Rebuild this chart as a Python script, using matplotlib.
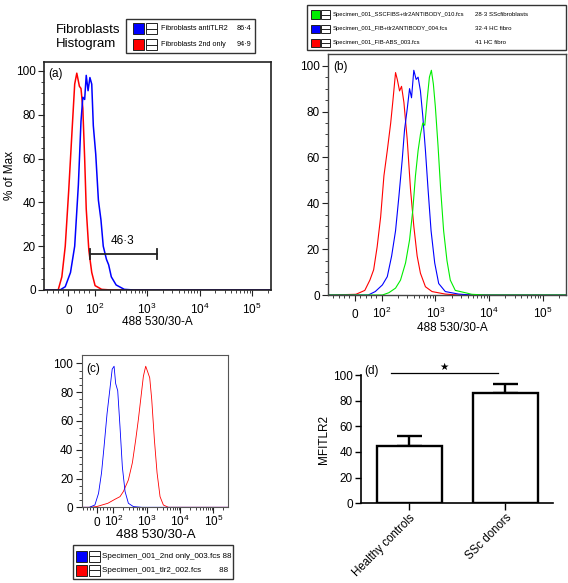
import matplotlib
matplotlib.use('Agg')
import matplotlib.pyplot as plt
from matplotlib.patches import Rectangle
from matplotlib.lines import Line2D
from matplotlib.ticker import FixedLocator, NullFormatter

plt.rcParams['font.family'] = ['Liberation Sans', 'DejaVu Sans']
plt.rcParams['mathtext.fontset'] = 'custom'
plt.rcParams['mathtext.rm'] = 'Liberation Sans'
plt.rcParams['mathtext.it'] = 'Liberation Sans:italic'
plt.rcParams['mathtext.bf'] = 'Liberation Sans:bold'

# ---------------- data ----------------
flow_ticks = [0, 100, 1000, 10000, 100000]
flow_tick_labels = ['0', r'$\mathregular{10^{2}}$', r'$\mathregular{10^{3}}$',
                    r'$\mathregular{10^{4}}$', r'$\mathregular{10^{5}}$']
pct_ticks = [0, 20, 40, 60, 80, 100]
x_label = '488 530/30-A'
y_label_a = '% of Max'

# Panel (a): fibroblast histograms
a_red_x = [-96, -39, -25, -12, 1, 15, 24, 32, 42, 48, 55, 62, 68, 78, 89, 102, 136, 208, 230000]
a_red_y = [0, 0, 6, 20, 45, 75, 94, 99, 93, 92, 83, 60, 37, 18, 8, 2, 0.3, 0, 0]
a_blue_x = [-96, -32, -12, 8, 24, 38, 48, 55, 62, 68, 75, 82, 89, 95, 105, 118, 132, 146,
            168, 185, 208, 257, 367, 562, 230000]
a_blue_y = [0, 0, 1.5, 8, 20, 48, 77, 88, 87, 98, 91, 97, 94, 75, 62, 41, 32, 20,
            14, 11.5, 6, 2.3, 0.3, 0, 0]
a_gate_x = [82, 1514]
a_gate_y = 16.5
a_gate_label = '46·3'

# Panel (b)
b_red_x = [-100, 3.9, 37, 56, 70, 83, 96, 110, 127, 147, 162, 181, 195, 215, 234, 259, 298,
           344, 396, 457, 526, 652, 865, 1528, 2698, 270000]
b_red_y = [0, 0.3, 2, 6.5, 11, 21, 34, 52, 63, 75, 85, 97, 94, 89, 91, 84, 68,
           46, 30, 17, 9.5, 3.6, 1.5, 0.4, 0, 0]
b_blue_x = [-100, 50, 76, 103, 127, 153, 181, 209, 241, 266, 298, 330, 359, 396, 438, 476,
            526, 582, 652, 730, 830, 970, 1151, 1528, 2698, 4764, 270000]
b_blue_y = [0, 0, 1.5, 4.4, 8, 17, 28, 43, 59, 72, 81, 90, 86, 98, 94, 95,
            89, 78, 63, 46, 28, 14, 5, 1.5, 0.4, 0, 0]
b_green_x = [-100, 103, 136, 181, 224, 278, 330, 379, 425, 476, 526, 582, 634, 700, 773, 841,
             916, 998, 1119, 1253, 1422, 1641, 1892, 2344, 3589, 4764, 8414, 270000]
b_green_y = [0, 0, 1, 3, 6.5, 14, 24, 37, 52, 63, 70, 75, 74, 85, 95, 98,
             92, 82, 65, 46, 28, 15, 6.5, 2, 1, 0.3, 0, 0]

# Panel (c)
c_blue_x = [-90, -44, -11, 11, 29, 44, 62, 78, 93, 105, 117, 135, 158, 186, 224, 282, 398, 708, 280000]
c_blue_y = [0, 0, 1.6, 9.7, 24, 42, 65, 81, 96, 98, 86, 81, 56, 28, 11, 2.8, 0.5, 0, 0]
c_red_x = [-90, -44, 0, 67, 112, 158, 200, 282, 372, 468, 562, 676, 794, 933, 1072, 1230,
           1413, 1698, 2042, 2512, 3162, 4467, 280000]
c_red_y = [0, 0, 0.5, 2.8, 5.6, 7.4, 11, 19, 31, 47, 61, 77, 91, 98, 94, 90,
           75, 47, 24, 7.4, 1.6, 0, 0]

# Panel (d)
groups = ['Healthy controls', 'SSc donors']
means = [44.7, 85.7]
sems = [8.0, 7.0]
d_ylabel = 'MFITLR2'
sig_span = [-0.19, 0.92]
sig_y = 101.3
sig_mark = '★'

# Legends
legend_a_title = ['Fibroblasts', 'Histogram']
legend_a_names = ['Fibroblasts antiTLR2', 'Fibroblasts 2nd only']
legend_a_vals = ['86·4', '94·9']
legend_a_colors = ['#0000ff', '#ff0000']
legend_b_names = ['Specimen_001_SSCFIBS+tlr2ANTIBODY_010.fcs',
                  'Specimen_001_FIB+tlr2ANTIBODY_004.fcs',
                  'Specimen_001_FIB-ABS_003.fcs']
legend_b_vals = ['28·3 SScfibroblasts', '32·4 HC fibro', '41 HC fibro']
legend_b_colors = ['#00ee00', '#0000ff', '#ff0000']
legend_c_names = ['Specimen_001_2nd only_003.fcs 88', 'Specimen_001_tlr2_002.fcs        88']
legend_c_colors = ['#0000ff', '#ff0000']

RED, BLUE, GREEN = '#ff0000', '#0000ff', '#00ee00'

# ---------------- figure ----------------
W, H = 568, 583
fig = plt.figure(figsize=(W / 100, H / 100), dpi=100)


def fx(x):
    return x / W


def fy(y):
    return 1 - y / H


def axes_rect(l, t, r, b):
    return [l / W, 1 - b / H, (r - l) / W, (b - t) / H]


lin_minor = [-80, -60, -40, -20, 20, 40, 60, 80]
log_minor = [m * 10 ** k for k in range(2, 6) for m in range(2, 10)]
pct_minor = [v for v in range(5, 100, 5) if v % 20]


def flow_panel(rect, xlim, ytop, spine_c, spine_lw, fs, xpad, xl_pos, tag, tag_pos):
    ax = fig.add_axes(rect)
    ax.set_xscale('symlog', linthresh=100, linscale=0.45)
    ax.set_xlim(*xlim)
    ax.set_ylim(0, ytop)
    ax.set_xticks(flow_ticks)
    ax.set_xticklabels(flow_tick_labels, va='baseline', fontsize=fs)
    ax.xaxis.set_minor_locator(FixedLocator([v for v in lin_minor + log_minor if xlim[0] < v < xlim[1]]))
    ax.xaxis.set_minor_formatter(NullFormatter())
    ax.set_yticks(pct_ticks)
    ax.set_yticklabels([str(v) for v in pct_ticks], fontsize=fs)
    ax.yaxis.set_minor_locator(FixedLocator(pct_minor))
    ax.yaxis.set_minor_formatter(NullFormatter())
    ax.tick_params(which='both', direction='out', top=False, right=False, color='#222222')
    ax.tick_params(which='major', length=4, width=0.8)
    ax.tick_params(which='minor', length=2.2, width=0.6)
    ax.tick_params(axis='x', which='major', pad=xpad)
    ax.tick_params(axis='y', which='major', pad=2)
    for s in ax.spines.values():
        s.set_color(spine_c)
        s.set_linewidth(spine_lw)
    ax.set_xlabel(x_label, fontsize=fs, va='baseline')
    ax.xaxis.set_label_coords(*xl_pos)
    ax.text(tag_pos[0], tag_pos[1], tag, transform=ax.transAxes, fontsize=fs, va='top', ha='left')
    return ax


# Panel (a)
axa = flow_panel(axes_rect(44, 62, 271, 290), (-93, 2.3e5), 104.1, '#222222', 1.2, 8.5, 13.2,
                 (0.5, -0.152), '(a)', (0.018, 0.975))
axa.plot(a_red_x, a_red_y, color=RED, lw=1.1)
axa.plot(a_blue_x, a_blue_y, color=BLUE, lw=1.1)
axa.plot(a_gate_x, [a_gate_y] * 2, color='#222222', lw=1.3)
for gx in a_gate_x:
    axa.plot([gx, gx], [a_gate_y - 2.3, a_gate_y + 2.3], color='#222222', lw=1.3)
axa.text(342, a_gate_y + 3.2, a_gate_label, fontsize=8.5, ha='center', va='bottom')
axa.set_ylabel(y_label_a, fontsize=8.5, va='center')
axa.yaxis.set_label_coords(-0.15, 0.5)

# Panel (b)
axb = flow_panel(axes_rect(328, 54, 566, 295), (-100, 2.7e5), 105.1, '#444444', 1.0, 8.5, 12.6,
                 (0.522, -0.149), '(b)', (0.022, 0.97))
axb.plot(b_red_x, b_red_y, color=RED, lw=0.8)
axb.plot(b_blue_x, b_blue_y, color=BLUE, lw=0.8)
axb.plot(b_green_x, b_green_y, color=GREEN, lw=0.8)

# Panel (c)
axc = flow_panel(axes_rect(81.7, 355, 228.3, 507.3), (-90, 2.8e5), 105.8, '#555555', 0.8, 8.5, 9.3,
                 (0.507, -0.2016), '(c)', (0.03, 0.945))
axc.xaxis.label.set_fontsize(9.5)
axc.plot(c_red_x, c_red_y, color=RED, lw=0.6)
axc.plot(c_blue_x, c_blue_y, color=BLUE, lw=0.6)

# Panel (d)
axd = fig.add_axes(axes_rect(361.3, 375, 553.3, 503.3))
xpos = list(range(len(groups)))
axd.bar(xpos, means, width=0.68, color='white', edgecolor='black', linewidth=1.7, zorder=2)
axd.errorbar(xpos, means, yerr=[[0] * len(means), sems], fmt='none', ecolor='black',
             elinewidth=1.7, capsize=9, capthick=1.7, zorder=1)
axd.set_xlim(-0.5, 1.5)
axd.set_ylim(0, 100)
axd.spines['top'].set_visible(False)
axd.spines['right'].set_visible(False)
for s in ('left', 'bottom'):
    axd.spines[s].set_linewidth(1.2)
axd.set_yticks(pct_ticks)
axd.set_yticklabels([str(v) for v in pct_ticks], fontsize=8.5)
axd.set_xticks(xpos)
axd.set_xticklabels(groups, rotation=45, ha='right', va='top', rotation_mode='anchor', fontsize=8.3)
axd.tick_params(direction='out', length=4, width=1.0, pad=2)
axd.tick_params(axis='x', length=5, pad=1)
axd.set_ylabel(d_ylabel, fontsize=8.5, va='center')
axd.yaxis.set_label_coords(-0.194, 0.5)
axd.plot(sig_span, [sig_y] * 2, color='black', lw=0.9, clip_on=False)
axd.text(sum(sig_span) / 2, sig_y + 1.2, sig_mark, fontsize=7.5, ha='center', va='bottom',
         family=['DejaVu Sans'])
axd.text(0.014, 1.078, '(d)', transform=axd.transAxes, fontsize=8.5, va='top', ha='left')


# ---------------- legends ----------------
def legend_box(l, t, r, b, lw=1.0, ec='#333333'):
    fig.add_artist(Rectangle((fx(l), fy(b)), (r - l) / W, (b - t) / H, transform=fig.transFigure,
                             fill=False, ec=ec, lw=lw))


def legend_row(yc, sq_x, sq_s, color, icon_x, text_x, text, fs):
    fig.add_artist(Rectangle((fx(sq_x), fy(yc + sq_s / 2)), sq_s / W, sq_s / H,
                             transform=fig.transFigure, fc=color, ec='#222222', lw=0.7))
    fig.add_artist(Rectangle((fx(icon_x), fy(yc + sq_s / 2)), sq_s / W, sq_s / H,
                             transform=fig.transFigure, fc='white', ec='#222222', lw=0.7))
    fig.add_artist(Line2D([fx(icon_x), fx(icon_x + sq_s)], [fy(yc), fy(yc)],
                          transform=fig.transFigure, color='#222222', lw=0.7))
    fig.text(fx(text_x), fy(yc), text, fontsize=fs, va='center', ha='left')


# legend (a)
fig.text(fx(56), fy(32.7), legend_a_title[0], fontsize=9.5, va='baseline', ha='left')
fig.text(fx(56), fy(47.3), legend_a_title[1], fontsize=9.5, va='baseline', ha='left')
legend_box(126, 19, 255, 53)
for yc, name, val, col in zip([28.8, 44.7], legend_a_names, legend_a_vals, legend_a_colors):
    legend_row(yc, 133, 11, col, 146, 161, name, 5.2)
    fig.text(fx(237), fy(yc), val, fontsize=5.2, va='center', ha='left')

# legend (b)
legend_box(307, 5, 566, 50)
for yc, name, val, col in zip([14.5, 28.8, 42.8], legend_b_names, legend_b_vals, legend_b_colors):
    legend_row(yc, 311, 8.5, col, 321, 333, name, 4.2)
    fig.text(fx(475), fy(yc), val, fontsize=4.4, va='center', ha='left')

# legend (c)
legend_box(73, 545, 233, 579)
for yc, name, col in zip([556, 570], legend_c_names, legend_c_colors):
    legend_row(yc, 76, 11, col, 89, 102, name, 5.8)

fig.savefig('out.png', dpi=100)
